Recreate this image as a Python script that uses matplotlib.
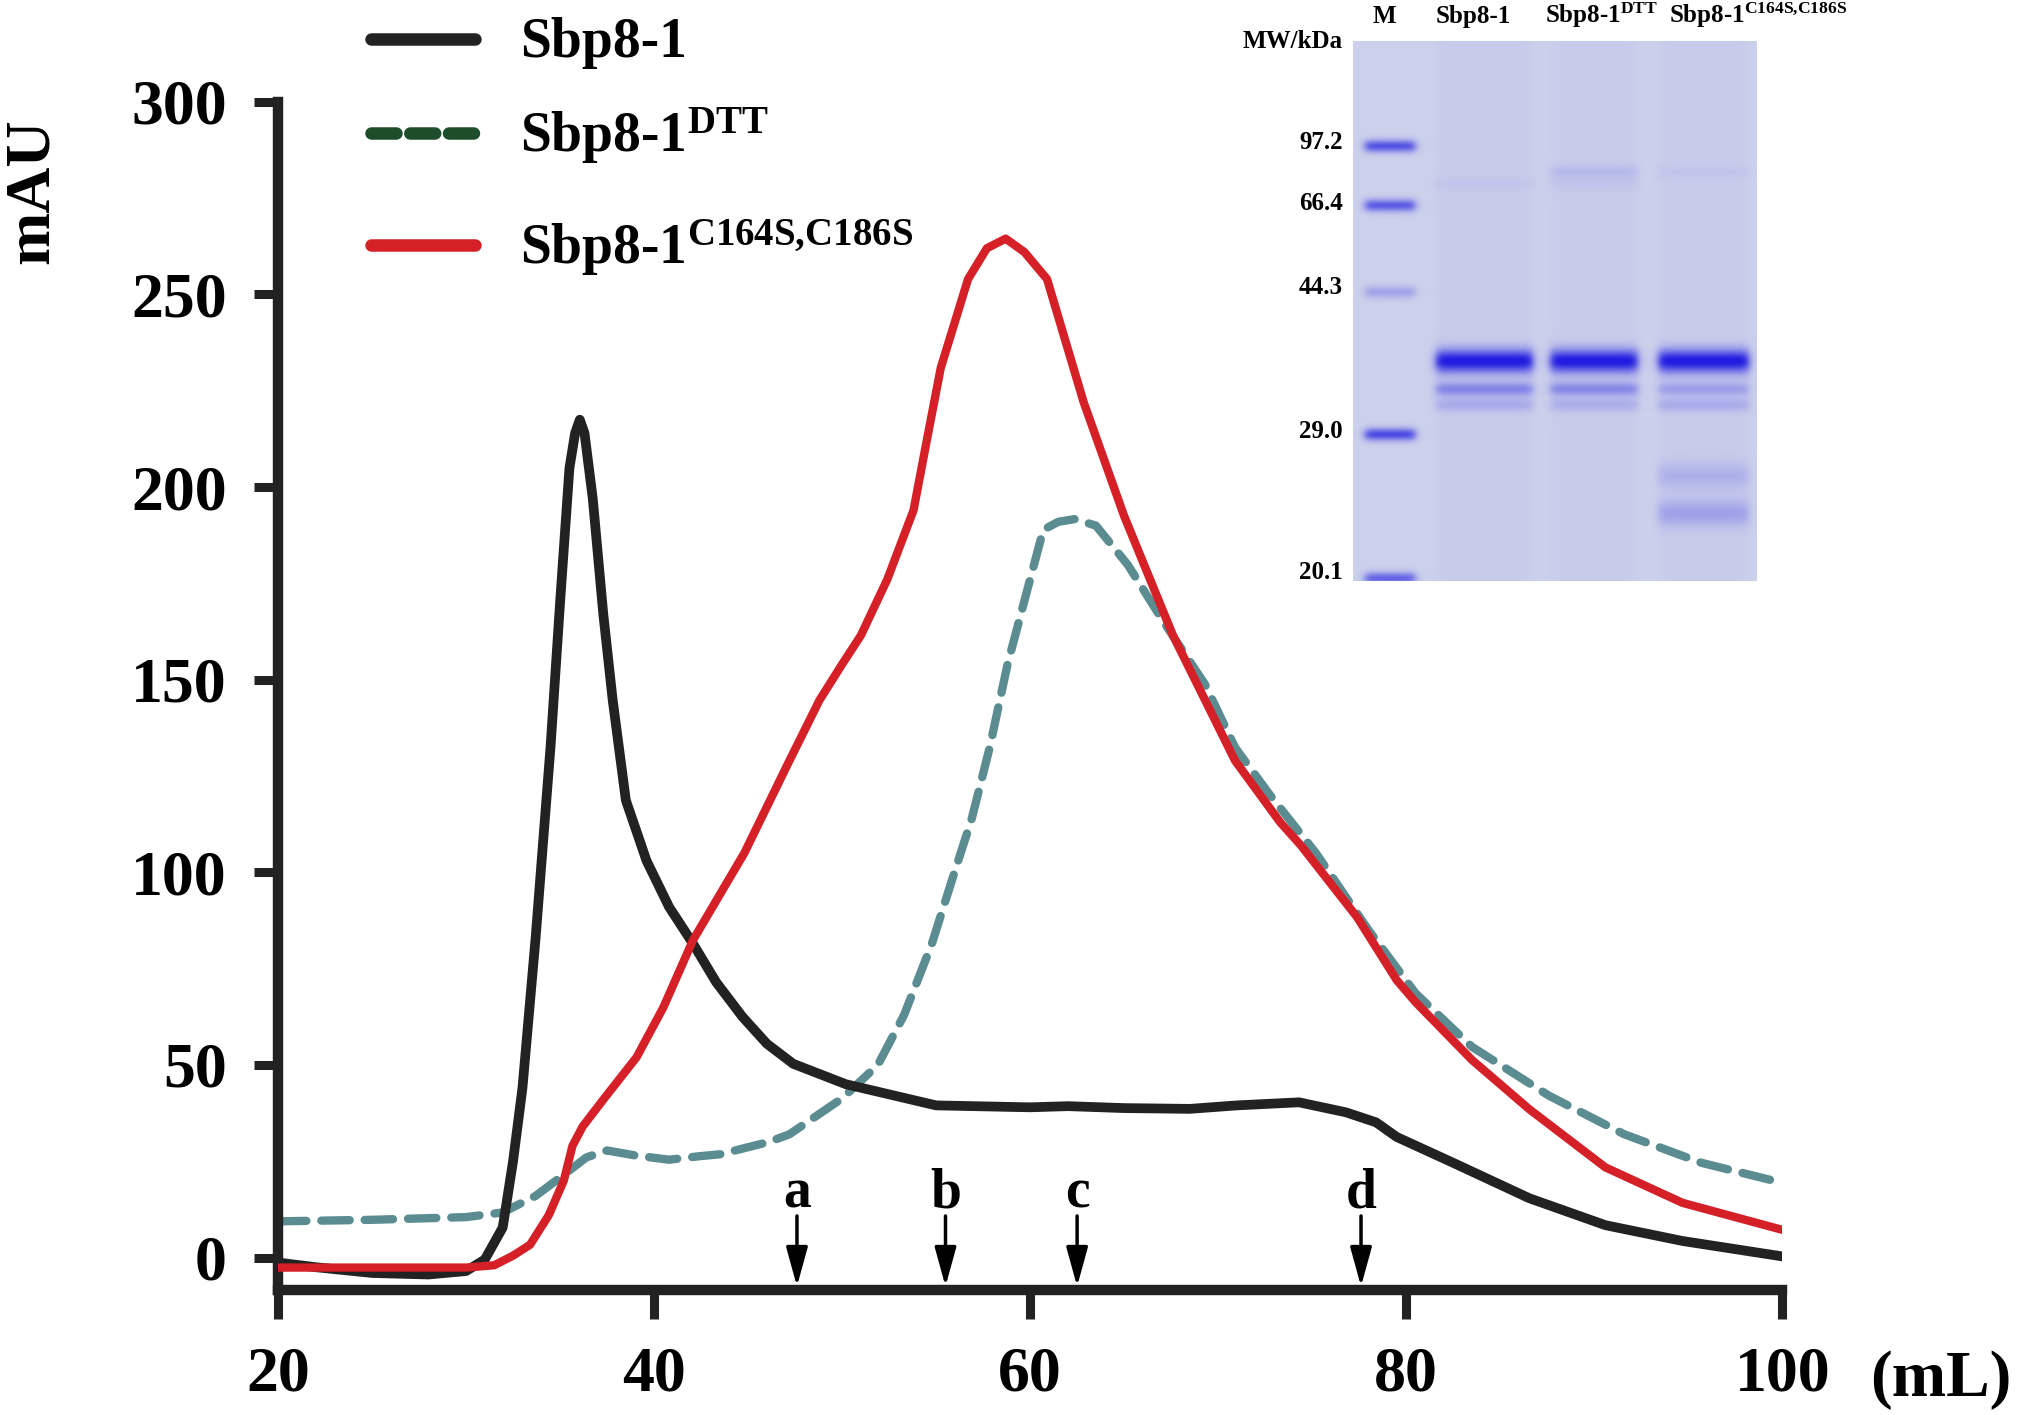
import numpy as np
import matplotlib
matplotlib.use("Agg")
import matplotlib.pyplot as plt
from matplotlib.lines import Line2D

plt.rcParams['font.family'] = 'Liberation Serif'
plt.rcParams['font.weight'] = 'bold'
plt.rcParams['mathtext.fontset'] = 'custom'
plt.rcParams['mathtext.rm'] = 'Liberation Serif:bold'
plt.rcParams['mathtext.it'] = 'Liberation Serif:bold'
plt.rcParams['mathtext.bf'] = 'Liberation Serif:bold'

# elution profiles: volume (mL) vs absorbance (mAU)
wt_ml = [20.0, 22.0, 25.0, 28.0, 30.0, 31.0, 31.95, 32.5, 33.0, 33.7, 34.5, 35.0,
         35.5, 35.8, 36.05, 36.3, 36.74, 37.3, 37.8, 38.5, 39.6, 40.8, 42.07, 43.3,
         44.7, 46.0, 47.4, 50.2, 55.0, 60.0, 62.0, 65.0, 68.5, 71.0, 74.3, 76.8, 78.4,
         79.5, 82.5, 86.55, 90.6, 94.7, 100.0]
wt_mau = [-1.3, -2.5, -4.0, -4.4, -3.5, -0.5, 7.8, 25.0, 44.0, 83.0, 133.0, 170.0,
          205.0, 214.0, 217.5, 214.0, 197.0, 167.0, 144.7, 118.7, 103.0, 91.0, 81.5, 71.5,
          62.5, 55.5, 50.3, 45.0, 39.5, 39.0, 39.3, 38.8, 38.6, 39.5, 40.3, 37.7, 35.1,
          31.3, 24.6, 15.4, 8.4, 4.3, 0.3]

dtt_ml = [20.0, 25.0, 30.0, 31.95, 33.7, 35.2, 36.4, 37.5, 39.0, 40.8, 42.4, 43.5,
          46.1, 47.2, 48.4, 50.0, 51.9, 53.3, 54.77, 55.95, 56.9, 57.85, 58.8, 59.8,
          60.7, 61.5, 62.38, 63.5, 65.2, 67.1, 69.3, 70.9, 72.8, 75.2, 78.0, 80.5,
          83.5, 87.6, 91.6, 95.7, 100.0]
dtt_mau = [9.4, 9.8, 10.5, 11.7, 16.0, 21.5, 26.0, 27.8, 26.5, 25.4, 26.3, 26.8,
           30.0, 32.0, 36.0, 41.3, 50.0, 63.0, 81.4, 99.6, 114.0, 132.4, 154.0, 172.4,
           188.9, 191.0, 191.7, 190.0, 179.8, 165.0, 148.8, 132.4, 119.8, 105.0, 85.0, 68.6,
           54.7, 42.0, 32.0, 24.6, 19.4]

mut_ml = [20.0, 25.0, 30.0, 31.5, 32.5, 33.4, 34.4, 35.2, 35.66, 36.2, 37.3, 39.07,
          40.5, 42.07, 44.8, 47.2, 48.8, 50.0, 51.0, 52.4, 53.8, 54.5, 55.25, 56.7, 57.7, 58.7,
          59.7, 60.9, 62.85, 65.0, 67.6, 70.9, 73.3, 74.4, 77.4, 79.5, 80.5, 83.5,
          86.55, 90.6, 94.7, 100.0]
mut_mau = [-2.6, -2.6, -2.6, -2.0, 0.5, 3.3, 11.0, 20.0, 29.0, 34.0, 41.0, 52.0,
           65.0, 82.4, 105.0, 129.0, 144.7, 154.0, 161.5, 176.0, 194.0, 212.0, 231.0, 254.0, 262.0, 264.5,
           261.0, 254.0, 222.0, 192.5, 161.5, 129.0, 113.0, 107.0, 88.3, 72.0, 66.3, 51.3,
           38.5, 23.4, 14.2, 7.2]

series_names = ['Sbp8-1', r'Sbp8-1$^{\mathrm{DTT}}$', r'Sbp8-1$^{\mathrm{C164S{,}C186S}}$']

# calibration standards marked with arrows
std_ml = [47.6, 55.5, 62.5, 77.6]
std_tags = ['a', 'b', 'c', 'd']

x_ticks = [20, 40, 60, 80, 100]
y_ticks = [0, 50, 100, 150, 200, 250, 300]

# SDS-PAGE inset
lane_names = ['M', 'Sbp8-1', r'Sbp8-1$^{\mathrm{DTT}}$', r'Sbp8-1$^{\mathrm{C164S{,}C186S}}$']
mw_labels = ['97.2', '66.4', '44.3', '29.0', '20.1']
mw_pos = [0.187, 0.300, 0.456, 0.723, 0.985]
band_lane = [0, 0, 0, 0, 0,
             1, 1, 1, 1,
             2, 2, 2, 2, 2,
             3, 3, 3, 3, 3, 3]
band_pos = [0.194, 0.304, 0.465, 0.729, 0.996,
            0.593, 0.645, 0.674, 0.264,
            0.593, 0.645, 0.674, 0.242, 0.264,
            0.593, 0.645, 0.674, 0.806, 0.875, 0.242]
band_strength = [0.7, 0.65, 0.25, 0.75, 0.6,
                 1.0, 0.4, 0.18, 0.04,
                 1.0, 0.38, 0.16, 0.1, 0.04,
                 1.0, 0.25, 0.18, 0.15, 0.24, 0.04]

fig = plt.figure(figsize=(20.22, 14.15), dpi=100)
ax = fig.add_axes([0.1375, 0.0884, 0.7439, 0.8396])

ax.plot(wt_ml, wt_mau, color='#222222', lw=7, solid_joinstyle='round',
        solid_capstyle='round', zorder=3)
ax.plot(dtt_ml, dtt_mau, color='#5b8c91', lw=6, dashes=(3.4, 1.8),
        dash_joinstyle='round', dash_capstyle='round', zorder=2)
ax.plot(mut_ml, mut_mau, color='#d42026', lw=6, solid_joinstyle='round',
        solid_capstyle='round', zorder=4)

ax.set_xlim(20, 100)
ax.set_ylim(-8.4, 300)
ax.set_xticks(x_ticks)
ax.set_yticks(y_ticks)
for s in ['top', 'right']:
    ax.spines[s].set_visible(False)
for s in ['left', 'bottom']:
    ax.spines[s].set_linewidth(7.5)
    ax.spines[s].set_color('#222222')
    ax.spines[s].set_capstyle('projecting')
ax.tick_params(axis='both', width=6.5, color='#222222', labelsize=46)
ax.tick_params(axis='x', length=21, pad=20)
ax.tick_params(axis='y', length=17, pad=20)

for xm, tag in zip(std_ml, std_tags):
    ax.annotate('', xy=(xm, -7.5), xytext=(xm, 10.8),
                arrowprops=dict(arrowstyle='-|>,head_length=1.2,head_width=0.33',
                                color='black', lw=2.5, shrinkA=0, shrinkB=0,
                                mutation_scale=20))
    ax.text(xm, 16.7, tag, ha='center', va='center', fontsize=40)

fig.text(0.96, 0.0246, '(mL)', ha='center', va='center', fontsize=47)
fig.text(0.016, 0.865, 'mAU', rotation=90, ha='center', va='center', fontsize=46)

# legend drawn by hand so the handles sit like in the original
leg_line_y = [0.9727, 0.9061, 0.8269]
leg_text_y = [0.960, 0.8925, 0.8134]
leg_colors = ['#222222', '#1e4d2b', '#d42026']
leg_dashes = [None, (2.0, 1.1), None]
for ly, ty, name, c, d in zip(leg_line_y, leg_text_y, series_names, leg_colors, leg_dashes):
    ln = Line2D([0.1835, 0.235], [ly, ly], transform=fig.transFigure, color=c,
                lw=9, solid_capstyle='round', dash_capstyle='round')
    if d is not None:
        ln.set_dashes(d)
    fig.add_artist(ln)
    fig.text(0.257, ty, name, ha='left', va='baseline', fontsize=40)

# gel image built from the band list
gax = fig.add_axes([0.669, 0.5894, 0.1998, 0.3813])
lane_center = [0.091, 0.325, 0.597, 0.869]
lane_half = [0.062, 0.12, 0.108, 0.112]
H, W = 540, 404
yy = np.linspace(0, 1, H)[:, None]
xx = np.linspace(0, 1, W)[None, :]
alpha = np.zeros((H, W))
for i in range(1, 4):
    m = 0.5 * (np.tanh((xx - (lane_center[i] - lane_half[i])) / 0.02)
               - np.tanh((xx - (lane_center[i] + lane_half[i])) / 0.02))
    alpha += 0.025 * m * np.ones_like(yy)
for ln_i, pos, st in zip(band_lane, band_pos, band_strength):
    c, hw = lane_center[ln_i], lane_half[ln_i]
    m = 0.5 * (np.tanh((xx - (c - hw)) / 0.012) - np.tanh((xx - (c + hw)) / 0.012))
    sig = 0.008 if ln_i == 0 else (0.015 if st >= 1.0 else 0.009)
    if ln_i == 3 and pos > 0.78:
        sig = 0.017
    alpha += st * m * np.exp(-0.5 * ((yy - pos) / sig) ** 2)
alpha = np.clip(alpha, 0, 1)[:, :, None]
bg = np.array([0.80, 0.82, 0.925])
dark = np.array([0.13, 0.11, 0.88])
img = bg * (1 - alpha) + dark * alpha
gax.imshow(img, aspect='auto', extent=(0, 1, 1, 0), interpolation='bilinear')
gax.set_xlim(0, 1)
gax.set_ylim(1, 0)
gax.axis('off')

head_x = [0.079, 0.298, 0.476, 0.784]
head_ha = ['center', 'center', 'left', 'left']
for hx, ha, name in zip(head_x, head_ha, lane_names):
    gax.text(hx, -0.035, name, ha=ha, va='baseline', fontsize=18)
gax.text(-0.025, 0.0, 'MW/kDa', ha='right', va='center', fontsize=18)
for lab, p in zip(mw_labels, mw_pos):
    gax.text(-0.025, p, lab, ha='right', va='center', fontsize=18)

fig.savefig('out.png', dpi=100)
